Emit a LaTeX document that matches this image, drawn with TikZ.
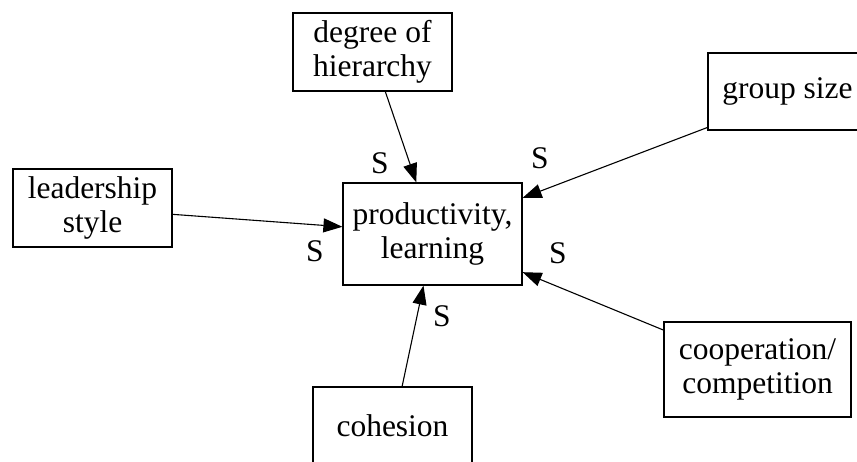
\documentclass[tikz,border=0pt]{standalone}
\usepackage{fontspec}
\setmainfont{Liberation Serif}
\usetikzlibrary{arrows.meta,calc}
\begin{document}
\begin{tikzpicture}[x=1pt,y=-1pt,
  box/.style={draw=black,line width=1.2pt,rectangle,inner sep=0pt,align=center,
    font=\fontsize{31.5}{34}\selectfont},
  lab/.style={inner sep=0pt,font=\fontsize{31.5}{34}\selectfont},
  link/.style={line width=1.1pt,-{Triangle[length=19pt,width=14pt]}}]
\useasboundingbox (0,0) rectangle (857,461);
\fill[white] (0,0) rectangle (857,461);
\node[box,minimum width=159pt,minimum height=78pt] (deg) at (372.5,52) {degree of\\hierarchy};
\node[box,minimum width=159pt,minimum height=77pt] (grp) at (787.5,91.5) {group size};
\node[box,minimum width=159pt,minimum height=78pt] (lead) at (92.5,208) {leadership\\style};
\node[box,minimum width=179pt,minimum height=102pt] (prod) at (432.5,234) {productivity,\\learning};
\node[box,minimum width=187pt,minimum height=95pt] (coop) at (757.5,369.5) {cooperation/\\competition};
\node[box,minimum width=159pt,minimum height=78pt] (coh) at (392.5,426) {cohesion};
\draw[link] ($(deg.south west)!0.58!(deg.south east)$) -- ($(prod.north west)!0.41!(prod.north east)$);
\draw[link] ($(lead.north east)!0.58!(lead.south east)$) -- ($(prod.north west)!0.43!(prod.south west)$);
\draw[link] ($(grp.north west)!0.96!(grp.south west)$) -- ($(prod.north east)!0.15!(prod.south east)$);
\draw[link] ($(coop.north west)!0.09!(coop.south west)$) -- ($(prod.north east)!0.87!(prod.south east)$);
\draw[link] ($(coh.north west)!0.56!(coh.north east)$) -- ($(prod.south west)!0.45!(prod.south east)$);
\node[lab] (s1) at (380,163) {S};
\node[lab] (s2) at (540,158) {S};
\node[lab] (s3) at (315,251) {S};
\node[lab] (s4) at (558,253) {S};
\node[lab] (s5) at (442,316) {S};
\end{tikzpicture}
\end{document}
